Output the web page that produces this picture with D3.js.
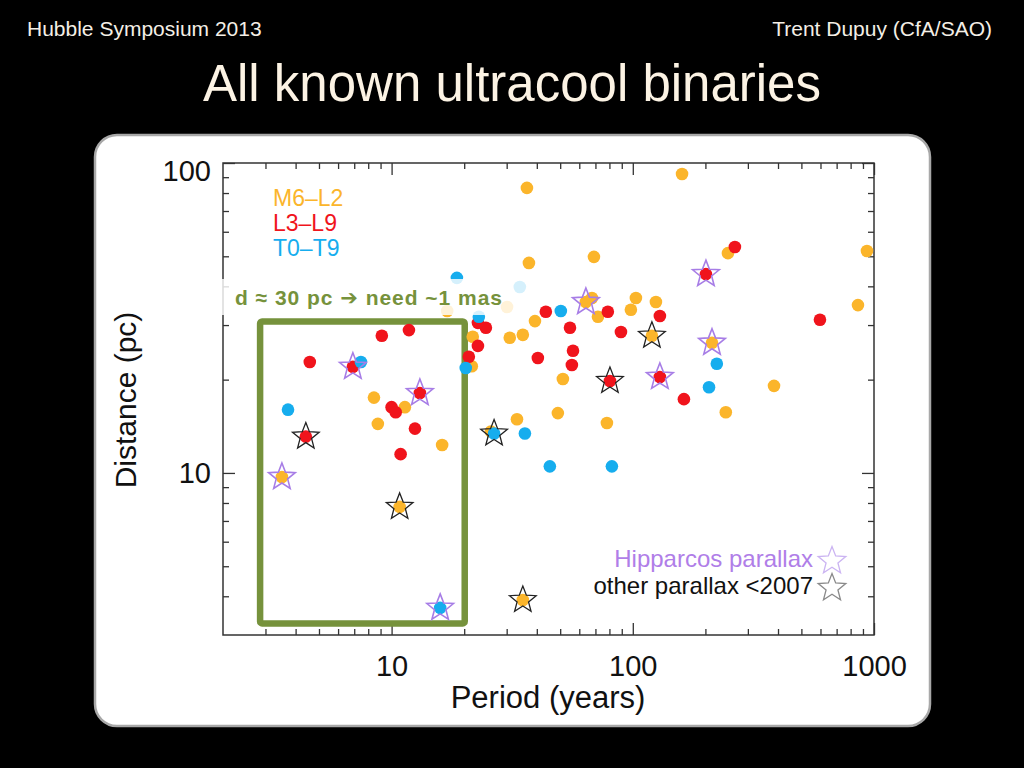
<!DOCTYPE html>
<html>
<head>
<meta charset="utf-8">
<script src="https://cdn.jsdelivr.net/npm/d3@7"></script>
<style>
  body { margin: 0; background: #000; }
  svg text { font-family: "Liberation Sans", Arial, Helvetica, sans-serif; }
</style>
</head>
<body>
<div id="chart"></div>
<script>

/*
DATA: [period (yr), distance (pc), parallax source]
*/
const m6l2 = [
    [36.4, 83.1], [37.1, 47.6], [69.0, 49.8], [160, 92.2], [248, 51.2], [935, 52.0],
    [67.7, 36.7], [71.7, 31.9], [103, 36.7], [98.2, 33.6], [124.7, 35.6], [39.3, 30.9],
    [30.9, 27.3], [35.0, 27.9], [21.7, 27.5], [21.5, 22.1], [51.3, 20.1], [33.1, 14.9],
    [48.9, 15.6], [78.1, 14.5], [243, 15.7], [385, 19.1], [858, 34.8], [8.45, 17.5],
    [11.35, 16.3], [8.77, 14.4], [16.2, 12.3], [17.0, 33.3], [30.1, 34.3], [25.8, 13.6],
    [63.9, 35.6, "hip"], [213, 26.3, "hip"], [3.51, 9.7, "hip"],
    [120, 27.7, "old"], [10.8, 7.77, "old"], [35.0, 3.89, "old"]
];

const l3l9 = [
    [265, 53.6], [43.6, 33.1], [78.8, 33.1], [129.5, 32.1], [22.8, 30.5], [24.6, 29.4],
    [54.9, 29.4], [89.3, 28.5], [22.8, 25.7], [56.5, 24.8], [55.9, 22.3], [40.4, 23.5],
    [20.9, 23.7], [162.9, 17.3], [597, 31.2], [9.11, 27.7], [11.8, 28.9], [4.58, 22.8],
    [10.0, 16.3], [10.4, 15.7], [12.5, 13.9], [10.9, 11.5],
    [201, 43.8, "hip"], [129.5, 20.4, "hip"], [6.91, 22.0, "hip"], [13.1, 18.1, "hip"],
    [80.4, 19.8, "old"], [4.41, 13.1, "old"]
];

const t0t9 = [
    [18.65, 42.6], [34.0, 39.8], [23.0, 31.9], [50.3, 33.3], [20.3, 21.8], [7.46, 22.8],
    [3.72, 16.0], [35.7, 13.4], [45.3, 10.5], [81.9, 10.5], [223, 22.5], [207, 18.9],
    [15.9, 3.67, "hip"], [26.6, 13.4, "old"]
];

const classNames = ["M6\u2013L2", "L3\u2013L9", "T0\u2013T9"];
const classData = [m6l2, l3l9, t0t9];

const xMajor = [10, 100, 1000];
const xMinor = [3, 4, 5, 6, 7, 8, 9, 20, 30, 40, 50, 60, 70, 80, 90, 200, 300, 400, 500, 600, 700, 800, 900];
const yMajor = [10, 100];
const yMinor = [4, 5, 6, 7, 8, 9, 20, 30, 40, 50, 60, 70, 80, 90];

// green box: period range, distance range
const boxPeriod = [2.85, 20.1];
const boxDist = [3.27, 30.8];

const parallaxLabels = ["Hipparcos parallax", "other parallax <2007"];


/*
SVG + SLIDE
*/
const width = 1024, height = 768;

const svg = d3.select("#chart")
    .append("svg")
    .attr("width", width)
    .attr("height", height);

svg.append("rect").attr("width", width).attr("height", height).attr("fill", "#000");

svg.append("text").attr("x", 27).attr("y", 36)
    .attr("fill", "#f4efe6").attr("font-size", "21px")
    .text("Hubble Symposium 2013");

svg.append("text").attr("x", 992).attr("y", 36)
    .attr("text-anchor", "end")
    .attr("fill", "#f4efe6").attr("font-size", "21px")
    .text("Trent Dupuy (CfA/SAO)");

svg.append("text").attr("x", 512).attr("y", 101)
    .attr("text-anchor", "middle")
    .attr("fill", "#fcf3e4").attr("font-size", "51px")
    .text("All known ultracool binaries");

// white card
svg.append("rect")
    .attr("x", 95).attr("y", 135)
    .attr("width", 835).attr("height", 591)
    .attr("rx", 22)
    .attr("fill", "#fff")
    .attr("stroke", "#a8a8a8")
    .attr("stroke-width", 2.5);


/*
SCALES
*/
const xScale = d3.scaleLog().domain([2, 1000]).range([223, 874]);
const yScale = d3.scaleLog().domain([3, 100]).range([635, 163]);

const colorScale = d3.scaleOrdinal()
    .domain(classNames)
    .range(["#fbb52b", "#f0141c", "#16adee"]);

const starColor = { hip: "#a77de6", old: "#222" };


/*
AXES (ticks inward on all four sides)
*/
function tickAxis(axis, transform, values, size, labels) {
    const g = svg.append("g")
        .attr("transform", transform)
        .call(axis.tickValues(values).tickSize(size).tickPadding(labels ? labels : 0)
            .tickFormat(labels ? d3.format("d") : ""));
    g.select(".domain").remove();
    g.selectAll("line").attr("stroke", "#333").attr("stroke-width", 1.3);
    g.selectAll("text").attr("fill", "#111").attr("font-size", "29px");
    return g;
}

const atBottom = `translate(0,${yScale(3)})`;
const atTop = `translate(0,${yScale(100)})`;
const atLeft = `translate(${xScale(2)},0)`;
const atRight = `translate(${xScale(1000)},0)`;

tickAxis(d3.axisBottom(xScale), atBottom, xMinor, -6);
tickAxis(d3.axisBottom(xScale), atBottom, xMajor, -12, 20);
tickAxis(d3.axisTop(xScale), atTop, xMinor, -6);
tickAxis(d3.axisTop(xScale), atTop, xMajor, -12);
tickAxis(d3.axisLeft(yScale), atLeft, yMinor, -6);
const yLab = tickAxis(d3.axisLeft(yScale), atLeft, yMajor, -12, 12);
yLab.selectAll("text").filter(d => d === 100).attr("dy", "0.62em");
tickAxis(d3.axisRight(yScale), atRight, yMinor, -6);
tickAxis(d3.axisRight(yScale), atRight, yMajor, -12);

svg.append("rect")
    .attr("x", xScale(2)).attr("y", yScale(100))
    .attr("width", xScale(1000) - xScale(2))
    .attr("height", yScale(3) - yScale(100))
    .attr("fill", "none")
    .attr("stroke", "#333")
    .attr("stroke-width", 1.5);

svg.append("text")
    .attr("transform", "rotate(-90)")
    .attr("x", -400).attr("y", 136)
    .attr("text-anchor", "middle")
    .attr("fill", "#111").attr("font-size", "30px")
    .text("Distance (pc)");

svg.append("text")
    .attr("x", 548).attr("y", 708)
    .attr("text-anchor", "middle")
    .attr("fill", "#111").attr("font-size", "31px")
    .text("Period (years)");


/*
GREEN BOX
*/
svg.append("rect")
    .attr("x", xScale(boxPeriod[0]))
    .attr("y", yScale(boxDist[1]))
    .attr("width", xScale(boxPeriod[1]) - xScale(boxPeriod[0]))
    .attr("height", yScale(boxDist[0]) - yScale(boxDist[1]))
    .attr("rx", 2)
    .attr("fill", "none")
    .attr("stroke", "#76923c")
    .attr("stroke-width", 6.5);


/*
POINTS
*/
function starPath(R, ratio) {
    const pts = [];
    for (let i = 0; i < 10; i++) {
        const r = i % 2 === 0 ? R : R * ratio;
        const a = -Math.PI / 2 + i * Math.PI / 5;
        pts.push([r * Math.cos(a), r * Math.sin(a)]);
    }
    return "M" + pts.map(p => p[0].toFixed(2) + "," + p[1].toFixed(2)).join("L") + "Z";
}

const allPoints = [];
classData.forEach(function(arr, i) {
    arr.forEach(function(d) {
        allPoints.push({ period: d[0], dist: d[1], src: d[2], cls: classNames[i] });
    });
});

svg.selectAll("circle.pt")
    .data(allPoints)
    .enter()
    .append("circle")
        .attr("class", "pt")
        .attr("cx", d => xScale(d.period))
        .attr("cy", d => yScale(d.dist))
        .attr("r", 6.3)
        .attr("fill", d => colorScale(d.cls));

svg.selectAll("path.star")
    .data(allPoints.filter(d => d.src))
    .enter()
    .append("path")
        .attr("class", "star")
        .attr("d", starPath(14, 0.43))
        .attr("transform", d => `translate(${xScale(d.period)},${yScale(d.dist)})`)
        .attr("fill", "none")
        .attr("stroke", d => starColor[d.src])
        .attr("stroke-width", d => d.src === "hip" ? 1.6 : 1.3)
        .attr("stroke-linejoin", "miter");


/*
ANNOTATION
*/
svg.append("rect")
    .attr("x", 219).attr("y", 279)
    .attr("width", 307).attr("height", 36)
    .attr("fill", "#fff")
    .attr("opacity", 0.82);

const note = svg.append("text")
    .attr("x", 235).attr("y", 305)
    .attr("fill", "#76923c")
    .attr("font-size", "21px")
    .attr("font-weight", "bold")
    .attr("textLength", 267)
    .attr("lengthAdjust", "spacing");
note.append("tspan").text("d \u2248 30 pc ");
note.append("tspan").attr("font-family", "DejaVu Sans").text("\u2794");
note.append("tspan").text(" need ~1 mas");


/*
LEGENDS
*/
svg.selectAll("text.cls")
    .data(classNames)
    .enter()
    .append("text")
        .attr("class", "cls")
        .attr("x", 273)
        .attr("y", (d, i) => 206 + i * 25)
        .attr("fill", d => colorScale(d))
        .attr("font-size", "23px")
        .text(d => d);

const legendStar = ["#cbb4f2", "#8a8a8a"];
const legendText = ["#b07ee8", "#111"];

parallaxLabels.forEach(function(t, i) {
    svg.append("text")
        .attr("x", 813).attr("y", 567 + i * 27)
        .attr("text-anchor", "end")
        .attr("fill", legendText[i])
        .attr("font-size", "24px")
        .text(t);
    svg.append("path")
        .attr("d", starPath(14.5, 0.43))
        .attr("transform", `translate(832,${561 + i * 27})`)
        .attr("fill", "none")
        .attr("stroke", legendStar[i])
        .attr("stroke-width", 1.3);
});

</script>
</body>
</html>
